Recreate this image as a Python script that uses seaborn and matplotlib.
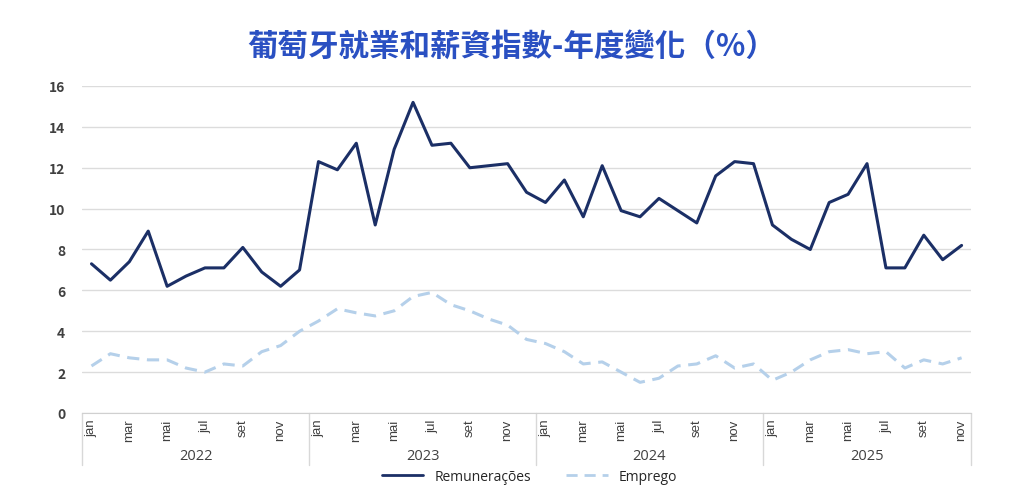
import matplotlib
matplotlib.use("Agg")
import matplotlib.pyplot as plt
import seaborn as sns
import pandas as pd

#%%
#  Data

years = ["2022", "2023", "2024", "2025"]
month_names = ["jan", "fev", "mar", "abr", "mai", "jun",
               "jul", "ago", "set", "out", "nov", "dez"]

remuneracoes = [7.3, 6.5, 7.4, 8.9, 6.2, 6.7, 7.1, 7.1, 8.1, 6.9, 6.2, 7.0,
                12.3, 11.9, 13.2, 9.2, 12.9, 15.2, 13.1, 13.2, 12.0, 12.1, 12.2, 10.8,
                10.3, 11.4, 9.6, 12.1, 9.9, 9.6, 10.5, 9.9, 9.3, 11.6, 12.3, 12.2,
                9.2, 8.5, 8.0, 10.3, 10.7, 12.2, 7.1, 7.1, 8.7, 7.5, 8.2]

emprego = [2.3, 2.9, 2.7, 2.6, 2.6, 2.2, 2.0, 2.4, 2.3, 3.0, 3.3, 4.0,
           4.5, 5.1, 4.9, 4.75, 5.0, 5.7, 5.9, 5.3, 5.0, 4.6, 4.3, 3.6,
           3.4, 3.0, 2.4, 2.5, 2.0, 1.5, 1.7, 2.3, 2.4, 2.8, 2.2, 2.4,
           1.6, 2.0, 2.6, 3.0, 3.1, 2.9, 3.0, 2.2, 2.6, 2.4, 2.7]

months = [m for y in years for m in month_names][:len(remuneracoes)]
year_of = [y for y in years for m in month_names][:len(remuneracoes)]

df = pd.DataFrame({"idx": range(len(remuneracoes)),
                   "Remunerações": remuneracoes,
                   "Emprego": emprego})
long = df.melt(id_vars="idx", var_name="serie", value_name="valor")

#%%
#  Plot

sns.set_style("white")
plt.rcParams["font.family"] = ["Noto Sans CJK TC", "DejaVu Sans"]

fig = plt.figure(figsize=(10.24, 5.02), dpi=100)
ax = fig.add_axes([0.0801, 0.1753, 0.8682, 0.6514])

sns.lineplot(data=long, x="idx", y="valor", hue="serie", style="serie",
             palette={"Remunerações": "#1b2f66", "Emprego": "#b5d0ea"},
             dashes={"Remunerações": "", "Emprego": (4, 2.5)},
             linewidth=2.2, ax=ax, legend=False)

ax.set_xlim(-0.5, len(remuneracoes) - 0.5)
ax.set_ylim(0, 16)
ax.set_yticks(range(0, 17, 2))
ax.yaxis.grid(True, color="#dcdcdc", linewidth=1)
ax.set_axisbelow(True)
for s in ["top", "right", "left"]:
    ax.spines[s].set_visible(False)
ax.spines["bottom"].set_color("#d0d0d0")
ax.tick_params(axis="y", length=0, pad=12, labelsize=10, labelcolor="#404040")
for lab in ax.get_yticklabels():
    lab.set_fontweight("bold")

ticks = list(range(0, len(months), 2))
ax.set_xticks(ticks)
ax.set_xticklabels([months[i] for i in ticks], rotation=90, fontsize=9.5,
                   color="#404040", family="Liberation Sans")
ax.tick_params(axis="x", length=0, pad=4)
ax.set_xlabel("")
ax.set_ylabel("")

# year groups under the months
bounds = [-0.5]
for i, y in enumerate(years):
    n = year_of.count(y)
    start = bounds[-1]
    end = start + n
    bounds.append(end)
    ax.text((start + end) / 2, -0.13, y, transform=ax.get_xaxis_transform(),
            ha="center", va="center", fontsize=10.5, color="#404040",
            family="Open Sans")
for b in bounds:
    ax.plot([b, b], [0, -0.16], transform=ax.get_xaxis_transform(),
            color="#d8d8d8", linewidth=1, clip_on=False)

handles = [plt.Line2D([], [], color="#1b2f66", linewidth=2),
           plt.Line2D([], [], color="#b5d0ea", linewidth=2, dashes=(4, 2.5))]
fig.legend(handles, ["Remunerações", "Emprego"], loc="center",
           bbox_to_anchor=(0.517, 0.049), ncol=2, frameon=False,
           prop={"family": "Open Sans", "size": 10}, handlelength=3,
           columnspacing=2.5)

fig.text(0.5, 0.905, "葡萄牙就業和薪資指數-年度變化（%）", ha="center",
         va="center", fontsize=22, fontweight="bold", color="#2a50c2")

fig.savefig("out.png", dpi=100)
